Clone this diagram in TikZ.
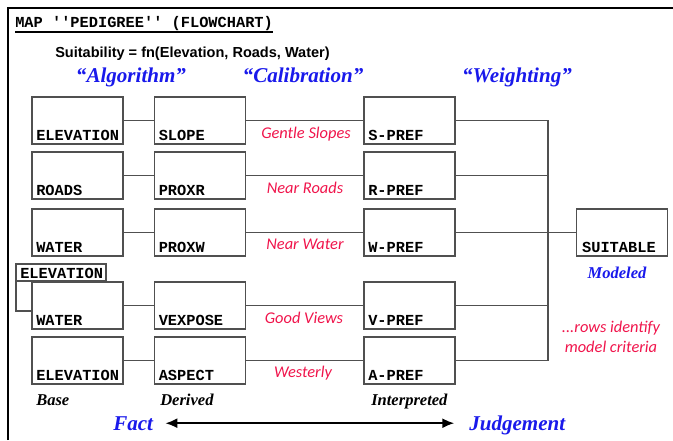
\documentclass[tikz,border=0pt]{standalone}
\usepackage{fontspec}
\setmainfont{Liberation Serif}
\setsansfont{Liberation Sans}
\setmonofont{Liberation Mono}
\newfontfamily\handfont{Carlito}
\usetikzlibrary{arrows.meta}

\definecolor{boxgray}{RGB}{80,80,80}
\definecolor{headblue}{RGB}{25,25,235}
\definecolor{critred}{RGB}{240,20,75}

\tikzset{
	cell/.style={draw=boxgray,line width=1pt,minimum width=68.25pt,minimum height=35.25pt,inner sep=0pt,outer sep=0pt},
	tabcell/.style={cell,minimum width=67.5pt,minimum height=12.75pt},
	celltext/.style={anchor=base west,inner sep=0pt,xshift=3pt,yshift=3pt,font=\ttfamily\bfseries\fontsize{11.5}{12}\selectfont},
	link/.style={draw=boxgray,line width=1pt},
	crit/.style={anchor=base,inner sep=0pt,text=critred,font=\handfont\itshape\fontsize{12.3}{14.5}\selectfont},
	stage/.style={anchor=base,inner sep=0pt,text=headblue,font=\bfseries\itshape\fontsize{15.8}{18}\selectfont},
	kind/.style={anchor=base west,inner sep=0pt,font=\bfseries\itshape\fontsize{12.4}{14}\selectfont},
}

\begin{document}
\begin{tikzpicture}[x=0.75pt,y=-0.75pt]
		\useasboundingbox (0,0) rectangle (673,440);
		\draw[line width=1.8pt] (8,440)--(8,8)--(673,8);
		\node[anchor=base west,inner sep=0pt,font=\ttfamily\bfseries\fontsize{11.5}{12}\selectfont] (title) at (15,27) {MAP ''PEDIGREE'' (FLOWCHART)};
		\draw[line width=1pt] ([yshift=-1.2pt]title.south west)--([yshift=-1.2pt]title.south east);
		\node[anchor=base west,inner sep=0pt,font=\sffamily\bfseries\fontsize{10.9}{13}\selectfont] (formula) at (55,57) {Suitability = fn(Elevation, Roads, Water)};
		\node[stage] (algo) at (131,82) {``Algorithm''};
		\node[stage] (calib) at (303,82) {``Calibration''};
		\node[stage] (weight) at (517,82) {``Weighting''};
		% base maps
		\node[cell,label={[celltext]south west:ELEVATION}] (elev) at (77.5,120.5) {};
		\node[cell,label={[celltext]south west:ROADS}] (roads) at (77.5,175.5) {};
		\node[cell,label={[celltext]south west:WATER}] (water) at (77.5,232.5) {};
		\node[cell,label={[celltext]south west:WATER}] (waterv) at (77.5,305.5) {};
		\node[cell,label={[celltext]south west:ELEVATION}] (elevw) at (77.5,360.5) {};
		\node[tabcell,label={[celltext,yshift=-0.8pt]south west:ELEVATION}] (viewer) at (61,272.5) {};
		\coordinate (viewin) at (32,311);
		\draw[link] (viewer.south west) |- (viewin);
		% derived maps
		\node[cell,label={[celltext]south west:SLOPE}] (slope) at (200,120.5) {};
		\node[cell,label={[celltext]south west:PROXR}] (proxr) at (200,175.5) {};
		\node[cell,label={[celltext]south west:PROXW}] (proxw) at (200,232.5) {};
		\node[cell,label={[celltext]south west:VEXPOSE}] (vexpose) at (200,305.5) {};
		\node[cell,label={[celltext]south west:ASPECT}] (aspect) at (200,360.5) {};
		% interpreted maps
		\node[cell,label={[celltext]south west:S-PREF}] (spref) at (409.5,120.5) {};
		\node[cell,label={[celltext]south west:R-PREF}] (rpref) at (409.5,175.5) {};
		\node[cell,label={[celltext]south west:W-PREF}] (wpref) at (409.5,232.5) {};
		\node[cell,label={[celltext]south west:V-PREF}] (vpref) at (409.5,305.5) {};
		\node[cell,label={[celltext]south west:A-PREF}] (apref) at (409.5,360.5) {};
		\node[cell,label={[celltext,xshift=1pt]south west:SUITABLE}] (suit) at (622,232.5) {};
		\draw[link] (elev)--(slope);
		\draw[link] (roads)--(proxr);
		\draw[link] (water)--(proxw);
		\draw[link] (waterv)--(vexpose);
		\draw[link] (elevw)--(aspect);
		\draw[link] (slope)--(spref);
		\draw[link] (proxr)--(rpref);
		\draw[link] (proxw)--(wpref);
		\draw[link] (vexpose)--(vpref);
		\draw[link] (aspect)--(apref);
		\coordinate (bus) at (548,232.5);
		\foreach \p in {spref,rpref,wpref,vpref,apref}
			\draw[link] (\p.east) -| (bus);
		\draw[link] (bus)--(suit.west);
		\node[crit] (gentle) at (306,138) {Gentle Slopes};
		\node[crit] (nearr) at (305,193) {Near Roads};
		\node[crit] (nearw) at (305,249) {Near Water};
		\node[crit] (views) at (304,323) {Good Views};
		\node[crit] (west) at (303,377) {Westerly};
		\node[stage,font=\bfseries\itshape\fontsize{12.4}{14}\selectfont] (modeled) at (617,278) {Modeled};
		\node[crit,align=center] (rows) at (611,352) {...rows identify\\model criteria};
		\node[kind] (base) at (36,405) {Base};
		\node[kind] (derived) at (160,405) {Derived};
		\node[kind] (interp) at (371,405) {Interpreted};
		\node[stage,anchor=base west] (fact) at (113,430) {Fact};
		\node[stage,anchor=base west] (judge) at (469,430) {Judgement};
		\coordinate (judgein) at (fact.east -| judge.west);
		\draw[>={Latex[length=9pt,width=7.5pt]},<->,line width=1.5pt,shorten <=9pt,shorten >=11pt] (fact.east)--(judgein);
	\end{tikzpicture}
\end{document}
